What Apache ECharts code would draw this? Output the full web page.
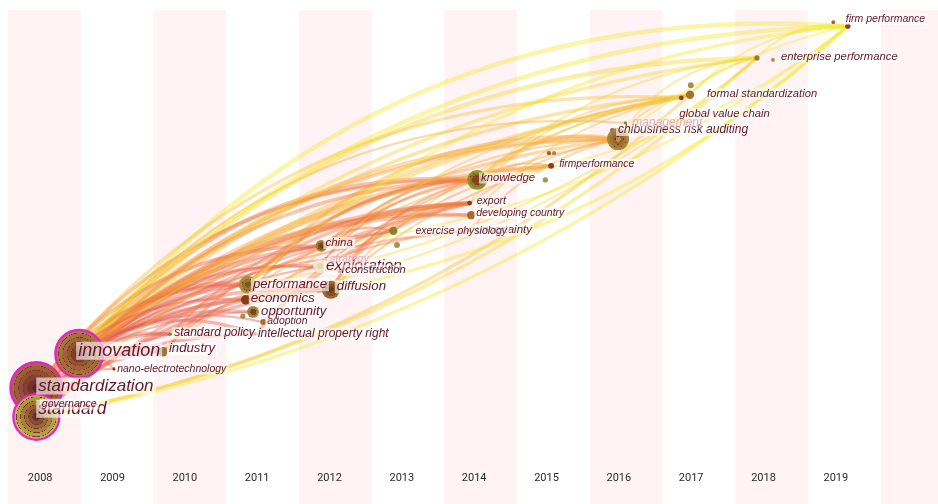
<!DOCTYPE html>
<html>
<head>
<meta charset="utf-8">
<script src="https://cdn.jsdelivr.net/npm/echarts@6/dist/echarts.min.js"></script>
<style>
  html, body { margin: 0; padding: 0; background: #fff; }
  #chart { width: 938px; height: 504px; }
</style>
</head>
<body>
<div id="chart"></div>
<script>
// timezone view: keywords placed by first year of appearance
const years = ['2008', '2009', '2010', '2011', '2012', '2013', '2014', '2015', '2016', '2017', '2018', '2019']
const bandYears = [2008, 2010, 2012, 2014, 2016, 2018, 2020]

const keywords = ['innovation', 'standardization', 'standard', 'governance', 'nano-electrotechnology',
  'industry', 'standard policy', 'intellectual property right', 'adoption', 'opportunity',
  'economics', 'performance', 'diffusion', 'china', 'exploration', 'strategy', 'construction',
  'uncertainty', 'exercise physiology', 'export', 'developing country', 'knowledge',
  'firmperformance', 'chibusiness risk auditing', 'management', 'global value chain',
  'formal standardization', 'enterprise performance', 'firm performance']
// position on the time axis (year + place inside the year column)
const keywordX = [2008.98, 2008.39, 2008.39, 2008.41, 2009.46,
  2010.13, 2010.23, 2011.41, 2011.51, 2011.37,
  2011.27, 2011.30, 2012.44, 2012.31, 2012.29, 2012.37, 2012.57,
  2014.35, 2013.30, 2014.35, 2014.37, 2014.45,
  2015.47, 2016.39, 2016.49, 2017.26,
  2017.38, 2018.30, 2019.55]
// layout row, 0 = top, 100 = bottom
const keywordY = [70.2, 77.0, 82.7, 80.2, 73.2,
  69.8, 66.3, 66.3, 63.9, 61.9,
  59.5, 56.5, 57.5, 48.8, 52.8, 51.4, 53.8,
  45.8, 45.8, 40.3, 42.7, 35.7,
  32.9, 27.6, 24.4, 19.4,
  18.8, 11.5, 5.2]
const keywordFreq = [100, 117, 92, 0.5, 0.5,
  4, 0.5, 0.5, 1.5, 6,
  4, 14, 14, 6, 8, 0.5, 1,
  0.5, 3, 1, 3, 17,
  1.5, 21, 0.5, 1,
  3, 1.2, 1.2]

// unlabeled small keywords
const minorX = [2013.35, 2015.44, 2015.51, 2015.39, 2016.31, 2017.39, 2011.23, 2019.35, 2018.52]
const minorY = [48.6, 30.4, 30.4, 35.7, 25.8, 16.9, 62.7, 4.4, 11.9]
const minorFreq = [1.5, 0.8, 0.8, 1.2, 0.8, 1.5, 1.2, 0.6, 0.6]

// co-occurrence links
const edgeFrom = [
  'innovation', 'innovation', 'innovation', 'innovation', 'innovation', 'innovation', 'innovation', 'innovation',
  'innovation', 'innovation', 'innovation', 'innovation', 'innovation', 'innovation', 'innovation', 'innovation',
  'innovation', 'innovation', 'innovation', 'innovation', 'innovation', 'innovation', 'innovation', 'innovation',
  'innovation',
  'standardization', 'standardization', 'standardization', 'standardization', 'standardization', 'standardization',
  'standardization', 'standardization', 'standardization', 'standardization', 'standardization', 'standardization',
  'standardization', 'standardization', 'standardization', 'standardization', 'standardization', 'standardization',
  'standardization', 'standardization',
  'standard', 'standard', 'standard', 'standard', 'standard', 'standard', 'standard', 'standard', 'standard',
  'standard', 'standard', 'standard',
  'performance', 'performance', 'performance', 'performance', 'performance',
  'diffusion', 'diffusion', 'diffusion', 'diffusion', 'diffusion',
  'china', 'china', 'china', 'china', 'economics', 'economics', 'economics', 'industry', 'industry', 'industry',
  'opportunity', 'exploration', 'construction', 'adoption', 'intellectual property right', 'standard policy',
  'strategy', 'exercise physiology', 'uncertainty',
  'knowledge', 'knowledge', 'knowledge', 'knowledge', 'knowledge',
  'export', 'export', 'developing country',
  'chibusiness risk auditing', 'chibusiness risk auditing', 'chibusiness risk auditing',
  'formal standardization', 'formal standardization', 'enterprise performance']
const edgeTo = [
  'industry', 'standard policy', 'nano-electrotechnology', 'performance', 'economics', 'opportunity', 'adoption', 'intellectual property right',
  'diffusion', 'china', 'exploration', 'construction', 'exercise physiology', 'export', 'developing country', 'knowledge',
  'uncertainty', 'firmperformance', 'chibusiness risk auditing', 'management', 'global value chain', 'formal standardization', 'enterprise performance', 'firm performance',
  'strategy',
  'industry', 'standard policy', 'performance', 'intellectual property right', 'opportunity', 'diffusion',
  'china', 'exploration', 'export', 'developing country', 'knowledge', 'exercise physiology',
  'firmperformance', 'chibusiness risk auditing', 'global value chain', 'formal standardization', 'enterprise performance', 'firm performance',
  'economics', 'nano-electrotechnology',
  'standard policy', 'industry', 'performance', 'economics', 'diffusion', 'china', 'knowledge', 'export', 'chibusiness risk auditing',
  'formal standardization', 'enterprise performance', 'firm performance',
  'diffusion', 'knowledge', 'chibusiness risk auditing', 'enterprise performance', 'firm performance',
  'knowledge', 'export', 'firmperformance', 'formal standardization', 'firm performance',
  'exercise physiology', 'knowledge', 'chibusiness risk auditing', 'firm performance',
  'knowledge', 'uncertainty', 'enterprise performance', 'export', 'diffusion', 'chibusiness risk auditing',
  'formal standardization', 'knowledge', 'export', 'knowledge', 'export', 'export',
  'knowledge', 'firmperformance', 'chibusiness risk auditing',
  'firmperformance', 'chibusiness risk auditing', 'formal standardization', 'enterprise performance', 'firm performance',
  'global value chain', 'chibusiness risk auditing', 'global value chain',
  'formal standardization', 'enterprise performance', 'firm performance',
  'enterprise performance', 'firm performance', 'firm performance']
const edgeWeight = [
  3, 2, 1, 3, 2, 2, 1, 2,
  3, 2, 2, 1, 2, 3, 2, 3,
  1, 2, 3, 1, 2, 2, 3, 3,
  1,
  2, 2, 2, 2, 1, 2,
  2, 1, 3, 2, 2, 1,
  2, 2, 2, 3, 2, 3,
  1, 1,
  1, 1, 2, 1, 2, 1, 2, 2, 2,
  2, 2, 2,
  1, 2, 2, 1, 2,
  1, 2, 1, 1, 2,
  1, 1, 1, 1, 1, 1, 1, 2, 1, 1,
  1, 1, 1, 1, 2, 1,
  1, 1, 1,
  1, 2, 1, 1, 1,
  1, 1, 1,
  1, 1, 1,
  1, 1, 1]

// ---- styles ----
const LABEL_COLOR = '#5a0a1c'
const FADED_COLOR = '#e4a4ae'
// [dx, dy, fontSize] of each label from its node centre
const labelStyle = {
  'innovation': [-2, -2, 18], 'standardization': [1, -1, 17], 'standard': [1, -7, 17.5],
  'governance': [2, 0, 10.5], 'nano-electrotechnology': [1, 0, 10.5], 'industry': [4, -3, 13.2],
  'standard policy': [2, -1, 12], 'intellectual property right': [0, 0, 12], 'adoption': [2, -1, 10.5],
  'opportunity': [6, -1, 13.2], 'economics': [3, -2, 13.4], 'performance': [3, 0, 13.2],
  'diffusion': [4, -3, 13.2], 'china': [2, -3, 11.5], 'exploration': [4, 0, 15.5], 'strategy': [2, 0, 11],
  'construction': [3, -1, 11.2], 'exercise physiology': [20, 0, 10.5], 'uncertainty': [4, -1, 11.5],
  'export': [5, -2, 10.5], 'developing country': [3, -2, 10.5], 'knowledge': [2, -2, 11.3],
  'firmperformance': [6, -2, 10.3], 'chibusiness risk auditing': [-2, -9, 12], 'management': [5, 0, 12],
  'global value chain': [-4, 16, 11.3], 'formal standardization': [15, -1, 11.2],
  'enterprise performance': [22, -1, 11.3], 'firm performance': [-4, -7, 10.5]
}
const fadedLabels = ['strategy', 'management']
// tree-ring colours, outside to inside
const nodeRings = {
  'innovation': ['#aa7040', '#a46838', '#9a5e32', '#8e4e2c', '#7c3624', '#641a1a'],
  'standardization': ['#a25e36', '#9a522e', '#8e442a', '#803424', '#6e241e', '#5c1418'],
  'standard': ['#bcae44', '#b09a3c', '#a27834', '#945c2e', '#7e4428', '#64221a'],
  'knowledge': ['#8e8c20', '#8c7024', '#7c401a', '#883418'],
  'chibusiness risk auditing': ['#a67e30', '#9c702a', '#8e5e24', '#b88e54'],
  'performance': ['#a48a34', '#927028', '#7e501e'],
  'diffusion': ['#926426', '#7e4a1a', '#6c2e14'],
  'china': ['#9e7e30', '#8c4e1e', '#7c361a'],
  'opportunity': ['#9e7e30', '#7c3c18'],
  'exploration': ['#f2e8d2', '#e8d8b8']
}
const smallColors = ['#8c7a24', '#8a3414', '#9a6a2a']

function yearColor(y) {
  if (y < 2012) return '#e4584e'
  if (y < 2013) return '#e65e4a'
  if (y < 2014) return '#ea6a46'
  if (y < 2015) return '#ee7a40'
  if (y < 2016) return '#f4983c'
  if (y < 2017) return '#f6a83e'
  if (y < 2018) return '#f6c23a'
  if (y < 2019) return '#f4d634'
  return '#f2e630'
}

function ringFill(cols) {
  const n = cols.length
  const stops = []
  for (let i = 0; i < n; i++) {
    const c = cols[n - 1 - i]
    const a = i / n, b = (i + 1) / n
    stops.push({ offset: a, color: c })
    stops.push({ offset: Math.max(a, b - 0.02), color: c })
    if (i < n - 1) {
      stops.push({ offset: b - 0.015, color: '#6a2a1a' })
      stops.push({ offset: b - 0.002, color: '#6a2a1a' })
    }
  }
  stops.push({ offset: 1, color: cols[0] })
  return { type: 'radial', x: 0.5, y: 0.5, r: 0.5, colorStops: stops }
}

const radius = f => 2.4 * Math.sqrt(f)
const idx = {}
keywords.forEach((k, i) => { idx[k] = i })

const nodeData = keywords.map((k, i) => {
  const ls = labelStyle[k]
  const r = radius(keywordFreq[i])
  const hub = keywordFreq[i] > 50
  const faded = fadedLabels.includes(k)
  return {
    name: k,
    value: [keywordX[i], keywordY[i]],
    symbolSize: 2 * r,
    itemStyle: {
      color: nodeRings[k] ? ringFill(nodeRings[k]) : smallColors[i % smallColors.length],
      borderColor: hub ? '#e21ccc' : 'rgba(0,0,0,0)',
      borderWidth: hub ? 2.2 : 0,
      opacity: hub ? 0.94 : 0.95
    },
    label: {
      show: true,
      formatter: k,
      // position is relative to the symbol's bounding box
      position: [r + ls[0], r + ls[1]],
      align: 'left',
      verticalAlign: 'middle',
      fontSize: ls[2],
      fontStyle: 'italic',
      fontFamily: 'Liberation Sans',
      color: faded ? FADED_COLOR : LABEL_COLOR,
      backgroundColor: faded ? 'rgba(255,255,255,0.25)' : 'rgba(255,255,255,0.66)',
      padding: [0, 2]
    }
  }
})

const minorData = minorX.map((x, i) => ({
  value: [x, minorY[i]],
  symbolSize: 2 * radius(minorFreq[i]),
  itemStyle: { color: smallColors[i % smallColors.length] }
}))

const bendDown = ['standard>firm performance', 'standard>enterprise performance', 'diffusion>firm performance',
  'performance>enterprise performance', 'knowledge>firm performance', 'standard>formal standardization',
  'china>firm performance', 'economics>enterprise performance']

const edgeData = edgeFrom.map((s, i) => {
  const t = edgeTo[i]
  const a = idx[s], b = idx[t]
  const down = bendDown.includes(s + '>' + t)
  return {
    coords: [[keywordX[a], keywordY[a]], [keywordX[b], keywordY[b]]],
    lineStyle: {
      color: yearColor(Math.floor(keywordX[b])),
      width: 1 + edgeWeight[i] * 1.2,
      opacity: 0.42,
      curveness: down ? -0.14 : 0.12 + (i % 4) * 0.045
    }
  }
})

const chart = echarts.init(document.getElementById('chart'))
chart.setOption({
  backgroundColor: '#ffffff',
  animation: false,
  grid: [
    { left: 0, right: 0, top: 0, bottom: 0 },
    { left: 4, right: 66, top: 0, bottom: 34 }
  ],
  xAxis: [
    { gridIndex: 0, type: 'value', min: 2007.89, max: 2020.79, show: false },
    {
      gridIndex: 1, type: 'category', data: years, position: 'bottom', z: 10,
      axisLine: { show: false }, axisTick: { show: false }, splitLine: { show: false },
      axisLabel: { interval: 0, color: '#2a2a2a', fontSize: 11, fontFamily: 'Roboto', margin: 3 }
    }
  ],
  yAxis: [
    { gridIndex: 0, type: 'value', min: 0, max: 100, inverse: true, show: false },
    { gridIndex: 1, type: 'value', show: false }
  ],
  series: [
    {
      type: 'scatter', xAxisIndex: 0, yAxisIndex: 0, data: [], silent: true, z: -1,
      markArea: {
        silent: true,
        itemStyle: { color: '#fff3f5' },
        data: bandYears.map(y => [{ xAxis: y, yAxis: 2 }, { xAxis: y + 1, yAxis: 100 }])
      }
    },
    {
      type: 'lines', coordinateSystem: 'cartesian2d', xAxisIndex: 0, yAxisIndex: 0,
      silent: true, z: 1, data: edgeData
    },
    {
      type: 'scatter', xAxisIndex: 0, yAxisIndex: 0, z: 2, data: minorData
    },
    {
      type: 'scatter', xAxisIndex: 0, yAxisIndex: 0, z: 3, data: nodeData,
      labelLayout: { hideOverlap: false }
    }
  ]
})
</script>
</body>
</html>
